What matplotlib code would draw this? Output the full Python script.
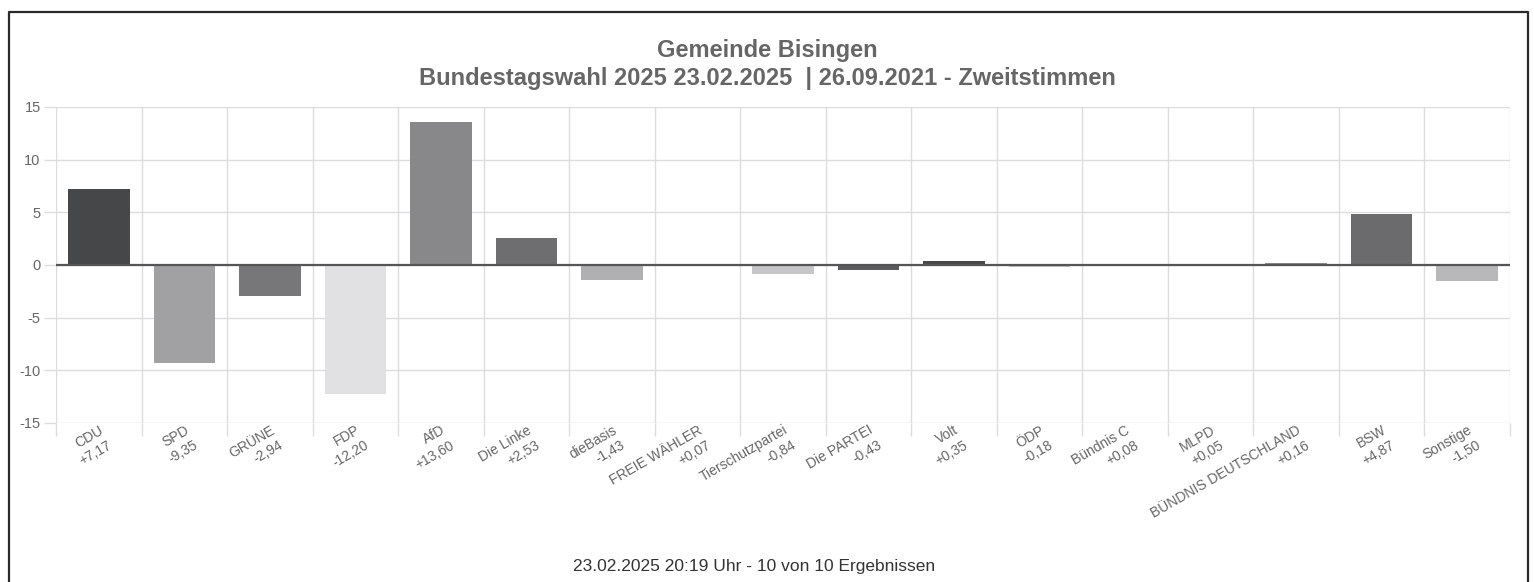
import numpy as np
import matplotlib.pyplot as plt
from matplotlib.lines import Line2D
from matplotlib.ticker import FixedLocator

plt.rcParams['font.family'] = ['Liberation Sans', 'DejaVu Sans']

# Daten
parteien = ['CDU', 'SPD', 'GRÜNE', 'FDP', 'AfD', 'Die Linke', 'dieBasis', 'FREIE WÄHLER',
            'Tierschutzpartei', 'Die PARTEI', 'Volt', 'ÖDP', 'Bündnis C', 'MLPD',
            'BÜNDNIS DEUTSCHLAND', 'BSW', 'Sonstige']
differenz = [7.17, -9.35, -2.94, -12.20, 13.60, 2.53, -1.43, 0.07,
             -0.84, -0.43, 0.35, -0.18, 0.08, 0.05, 0.16, 4.87, -1.50]
farben = ['#464749', '#a1a1a3', '#77777a', '#e1e1e3', '#88888a', '#6e6e70', '#b0b0b2', '#9a9a9c',
          '#c6c6c8', '#5c5c5e', '#48484a', '#c2c2c2', '#7a7a7a', '#6a6a6a',
          '#8a8a8a', '#6b6b6d', '#b8b8ba']
y_ticks = [-15, -10, -5, 0, 5, 10, 15]


def fmt(v):
    return f'{v:+.2f}'.replace('.', ',')


W, H = 1534, 582
fig = plt.figure(figsize=(W / 100, H / 100), dpi=100)
ax = fig.add_axes([56 / W, 1 - 423 / H, 1454 / W, 316 / H])

x = np.arange(len(parteien))
ax.bar(x, differenz, width=0.72, color=farben, zorder=2)
ax.axhline(0, color='#555555', lw=1.6, zorder=3)

ax.set_xlim(-0.5, len(parteien) - 0.5)
ax.set_ylim(-15, 15)
ax.set_yticks(y_ticks)
ax.set_yticklabels([str(t) for t in y_ticks])

ax.set_xticks(x)
ax.set_xticklabels([f'{p}\n{fmt(v)}' for p, v in zip(parteien, differenz)])
ax.xaxis.set_minor_locator(FixedLocator(np.arange(-0.5, len(parteien), 1.0)))

ax.grid(axis='y', color='#dddddd', lw=1, zorder=0)
ax.grid(axis='x', which='minor', color='#dddddd', lw=1, zorder=0)
ax.tick_params(axis='x', which='major', length=0, pad=0, labelsize=10, labelcolor='#666666')
ax.tick_params(axis='x', which='minor', length=9, width=1, color='#dddddd')
ax.tick_params(axis='y', length=9, width=1, color='#dddddd', labelsize=10.5, labelcolor='#666666', pad=2)
for lbl in ax.get_xticklabels():
    lbl.set_rotation(30)
    lbl.set_ha('right')
    lbl.set_rotation_mode('anchor')
    lbl.set_multialignment('right')
    lbl.set_linespacing(1.3)

for s in ax.spines.values():
    s.set_visible(False)

fig.text(0.5, 1 - 50 / H, 'Gemeinde Bisingen', ha='center', va='center',
         fontsize=17, fontweight='bold', color='#666666')
fig.text(0.5, 1 - 78 / H, 'Bundestagswahl 2025 23.02.2025  | 26.09.2021 - Zweitstimmen',
         ha='center', va='center', fontsize=17, fontweight='bold', color='#666666')
fig.text(754 / W, 1 - 567 / H, '23.02.2025 20:19 Uhr - 10 von 10 Ergebnissen',
         ha='center', va='center', fontsize=12.5, color='#333333')

# Rahmen
rx0, rx1, ry = 8.5 / W, 1527.5 / W, 1 - 11.5 / H
fig.add_artist(Line2D([rx0, rx0, rx1, rx1], [0, ry, ry, 0], color='#2a2a2a', lw=1.6,
                      transform=fig.transFigure))

fig.savefig('out.png', dpi=100)
